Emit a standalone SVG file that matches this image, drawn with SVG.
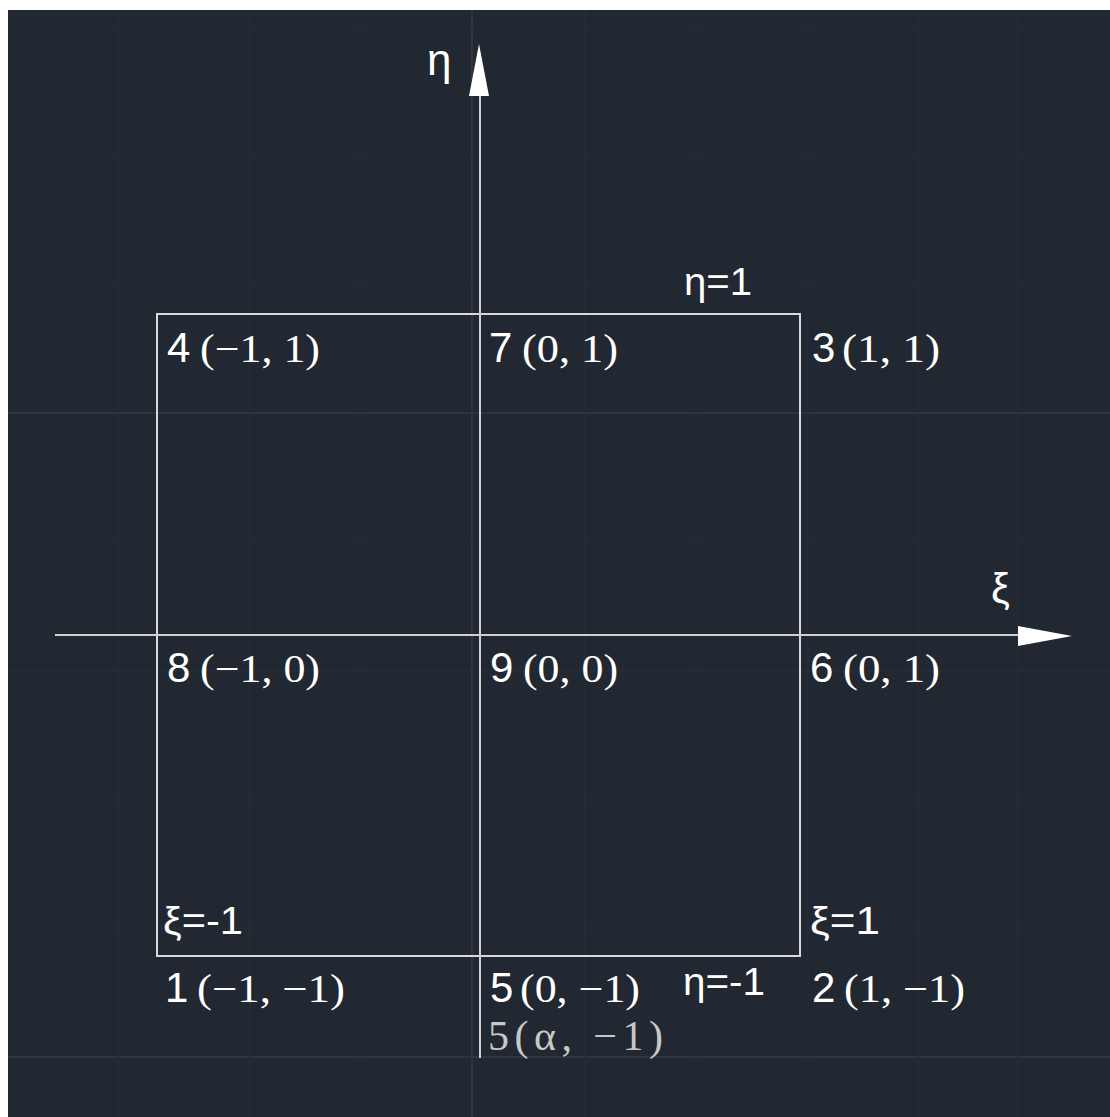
<svg xmlns="http://www.w3.org/2000/svg" width="1110" height="1117" viewBox="0 0 1110 1117">
<style>
.grid{stroke:#272d37;stroke-width:1.5}
.major{stroke:#2e3442;stroke-width:2}
.edge{stroke:#d9d9d9;stroke-width:2;fill:none}
.axis{stroke:#d0d0d0;stroke-width:2}
.head{fill:#ffffff}
.sans{font-family:"Liberation Sans",Arial,sans-serif;fill:#ffffff}
.serif{font-family:"Liberation Serif","Times New Roman",serif;fill:#ffffff}
.num{font-size:42px}
.par{font-size:40px}
.lab{font-size:38px}
</style>
<rect x="0" y="0" width="1110" height="1117" fill="#ffffff"/>
<rect x="8" y="10" width="1102" height="1107" fill="#222831"/>
<g id="grid">
<line class="grid" x1="8" y1="29" x2="1110" y2="29"/>
<line class="grid" x1="8" y1="157" x2="1110" y2="157"/>
<line class="grid" x1="8" y1="286" x2="1110" y2="286"/>
<line class="major" x1="8" y1="413" x2="1110" y2="413"/>
<line class="grid" x1="8" y1="542" x2="1110" y2="542"/>
<line class="grid" x1="8" y1="671" x2="1110" y2="671"/>
<line class="grid" x1="8" y1="800" x2="1110" y2="800"/>
<line class="grid" x1="8" y1="928" x2="1110" y2="928"/>
<line class="major" x1="8" y1="1057" x2="1110" y2="1057"/>
<line class="grid" x1="118" y1="10" x2="118" y2="1117"/>
<line class="grid" x1="250" y1="10" x2="250" y2="1117"/>
<line class="grid" x1="360" y1="10" x2="360" y2="1117"/>
<line class="major" x1="472" y1="10" x2="472" y2="1117"/>
<line class="grid" x1="585" y1="10" x2="585" y2="1117"/>
<line class="grid" x1="696" y1="10" x2="696" y2="1117"/>
<line class="grid" x1="808" y1="10" x2="808" y2="1117"/>
<line class="grid" x1="918" y1="10" x2="918" y2="1117"/>
<line class="grid" x1="1018" y1="10" x2="1018" y2="1117"/>
</g>
<g id="element">
<rect class="edge" x="157" y="314" width="643" height="642"/>
</g>
<g id="connectors">
<line class="axis" x1="480" y1="90" x2="480" y2="1058"/>
<polygon class="head" points="479,44 469,96 489,96"/>
<line class="axis" x1="55" y1="635" x2="1025" y2="635"/>
<polygon class="head" points="1072,636 1018,626 1018,646"/>
</g>
<g id="axis-labels">
<text class="sans" x="427" y="75" font-size="44">η</text>
<text class="sans" x="991" y="603" font-size="42">ξ</text>
</g>
<g id="n4"><text class="sans num" x="167" y="362">4</text><text class="serif par" x="200" y="362" textLength="120" lengthAdjust="spacingAndGlyphs">(−1, 1)</text></g>
<g id="n7"><text class="sans num" x="489" y="362">7</text><text class="serif par" x="522" y="362" textLength="96" lengthAdjust="spacingAndGlyphs">(0, 1)</text></g>
<g id="n3"><text class="sans num" x="812" y="362">3</text><text class="serif par" x="842" y="362" textLength="98" lengthAdjust="spacingAndGlyphs">(1, 1)</text></g>
<g id="n8"><text class="sans num" x="167" y="682">8</text><text class="serif par" x="200" y="682" textLength="120" lengthAdjust="spacingAndGlyphs">(−1, 0)</text></g>
<g id="n9"><text class="sans num" x="490" y="682">9</text><text class="serif par" x="523" y="682" textLength="95" lengthAdjust="spacingAndGlyphs">(0, 0)</text></g>
<g id="n6"><text class="sans num" x="810" y="682">6</text><text class="serif par" x="843" y="682" textLength="97" lengthAdjust="spacingAndGlyphs">(0, 1)</text></g>
<g id="n1"><text class="sans num" x="165" y="1002">1</text><text class="serif par" x="197" y="1002" textLength="148" lengthAdjust="spacingAndGlyphs">(−1, −1)</text></g>
<g id="n5"><text class="sans num" x="490" y="1002">5</text><text class="serif par" x="520" y="1002" textLength="120" lengthAdjust="spacingAndGlyphs">(0, −1)</text></g>
<g id="n2"><text class="sans num" x="812" y="1002">2</text><text class="serif par" x="844" y="1002" textLength="121" lengthAdjust="spacingAndGlyphs">(1, −1)</text></g>
<g id="n5b"><text class="serif" x="488" y="1050" font-size="42" style="fill:#c8c8c8" textLength="175" lengthAdjust="spacing">5(α, −1)</text></g>
<g id="edge-labels">
<text class="sans lab" x="684" y="295" textLength="68" lengthAdjust="spacingAndGlyphs">η=1</text>
<text class="sans lab" x="683" y="995" textLength="82" lengthAdjust="spacingAndGlyphs">η=-1</text>
<text class="sans lab" x="163" y="934" textLength="80" lengthAdjust="spacingAndGlyphs">ξ=-1</text>
<text class="sans lab" x="810" y="934" textLength="70" lengthAdjust="spacingAndGlyphs">ξ=1</text>
</g>
</svg>
